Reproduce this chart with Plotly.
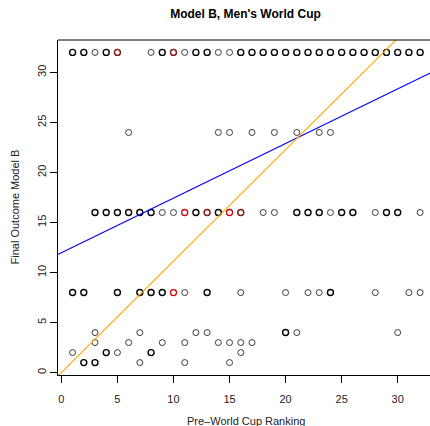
import plotly.graph_objects as go
import pandas as pd

# ---- data: one entry per team result (repeats = overlapping observations) ----
rank_32 = [1, 1, 1, 2, 2, 3, 4, 4, 5, 8, 9, 9, 10, 11, 12, 12, 13, 13, 14, 15, 16, 16,
           17, 17, 18, 18, 19, 19, 20, 20, 21, 21, 22, 22, 23, 23, 24, 24, 25, 25,
           26, 26, 27, 27, 28, 28, 29, 29, 30, 30, 31, 31, 32, 32]
rank_24 = [6, 14, 15, 17, 19, 21, 23, 24]
rank_16 = [3, 3, 4, 4, 5, 5, 6, 6, 7, 7, 8, 8, 9, 10, 12, 12, 13, 14, 14, 16,
           18, 19, 21, 21, 22, 22, 23, 23, 24, 25, 25, 26, 26, 28, 29, 29, 30, 30, 32]
rank_8 = [1, 1, 2, 2, 5, 5, 7, 7, 8, 8, 9, 9, 11, 13, 13, 16, 20, 22, 23, 24, 24, 28, 31, 32]
rank_4 = [3, 7, 12, 13, 20, 20, 21, 30]
rank_3 = [3, 6, 9, 11, 14, 15, 16, 17]
rank_2 = [1, 4, 4, 5, 8, 8, 16]
rank_1 = [2, 2, 3, 3, 7, 11, 15]

# highlighted team (red)
red_rank = [5, 10, 11, 13, 15, 16, 10]
red_outcome = [32, 32, 16, 16, 16, 16, 8]

# fitted lines: (intercept, slope)
blue_fit = (11.97, 0.546)
orange_fit = (0.0, 1.114)

x_ticks = [0, 5, 10, 15, 20, 25, 30]
y_ticks = [0, 5, 10, 15, 20, 25, 30]
x_range = [-0.30, 32.88]
y_range = [-0.24, 33.24]

# ---- build table ----
rows = []
for outcome, ranks in [(32, rank_32), (24, rank_24), (16, rank_16), (8, rank_8),
                       (4, rank_4), (3, rank_3), (2, rank_2), (1, rank_1)]:
    for r in ranks:
        rows.append((r, outcome))
df = pd.DataFrame(rows, columns=["rank", "outcome"])
cnt = df.groupby(["rank", "outcome"]).size().reset_index(name="n")

FONT = "Liberation Sans, Arial, Helvetica, sans-serif"

fig = go.Figure()
fig.add_trace(go.Scatter(
    x=cnt["rank"], y=cnt["outcome"], mode="markers",
    marker=dict(symbol="circle-open", size=6,
                color=["#000000" if n > 1 else "#3a3a3a" for n in cnt["n"]],
                line=dict(width=[1.4 if n > 1 else 1.0 for n in cnt["n"]])),
    hoverinfo="skip", showlegend=False))

black_set = set(zip(cnt["rank"], cnt["outcome"]))
red_cols = ["#8a1c1c" if (r, o) in black_set else "#d00000"
            for r, o in zip(red_rank, red_outcome)]
fig.add_trace(go.Scatter(
    x=red_rank, y=red_outcome, mode="markers",
    marker=dict(symbol="circle-open", size=6, color=red_cols, line=dict(width=1.3)),
    hoverinfo="skip", showlegend=False))

for (a, b), col in [(blue_fit, "#0000FF"), (orange_fit, "#FFA500")]:
    xs = [x_range[0] - 1, x_range[1] + 1]
    fig.add_trace(go.Scatter(x=xs, y=[a + b * v for v in xs], mode="lines",
                             line=dict(color=col, width=1.1),
                             hoverinfo="skip", showlegend=False))

axis_common = dict(showgrid=False, zeroline=False, showline=True, linecolor="black",
                   linewidth=1, ticks="outside", ticklen=7, tickcolor="black",
                   tickwidth=1, tickfont=dict(family=FONT, size=11, color="#222"))

fig.update_xaxes(range=x_range, tickvals=x_ticks, ticktext=[str(v) for v in x_ticks],
                 ticklabelstandoff=7, **axis_common)
fig.update_yaxes(range=y_range, tickvals=y_ticks, ticktext=[str(v) for v in y_ticks],
                 tickangle=-90, **axis_common)

# top box line
fig.add_shape(type="line", xref="paper", yref="paper", x0=0, x1=1, y0=1, y1=1,
              line=dict(color="black", width=1))

fig.update_layout(
    width=430, height=426,
    margin=dict(l=58, r=0, t=40, b=51),
    paper_bgcolor="white", plot_bgcolor="white",
    title=dict(text="<b>Model B, Men's World Cup</b>", x=245.5 / 430, xanchor="center",
               y=1 - 14 / 426, yanchor="middle", yref="container",
               font=dict(family=FONT, size=12, color="black")),
    annotations=[
        dict(text="Pre\u2013World Cup Ranking", xref="paper", yref="paper",
             x=(246 - 58) / 372, y=0, yshift=-46, xanchor="center", yanchor="middle",
             showarrow=False, font=dict(family=FONT, size=11, color="#222")),
        dict(text="Final Outcome Model B", xref="paper", yref="paper",
             x=0, xshift=-44, y=0.5, textangle=-90, xanchor="center", yanchor="middle",
             showarrow=False, font=dict(family=FONT, size=11, color="#222")),
    ],
)

fig.write_html("out.html")
